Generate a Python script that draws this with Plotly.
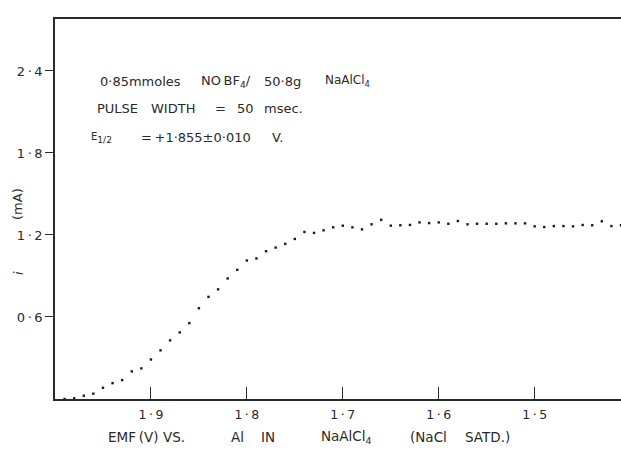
import plotly.graph_objects as go

emf = [1.99, 1.98, 1.97, 1.96, 1.95, 1.94, 1.93, 1.92, 1.91, 1.90,
       1.89, 1.88, 1.87, 1.86, 1.85, 1.84, 1.83, 1.82, 1.81, 1.80,
       1.79, 1.78, 1.77, 1.76, 1.75, 1.74, 1.73, 1.72, 1.71, 1.70,
       1.69, 1.68, 1.67, 1.66, 1.65, 1.64, 1.63, 1.62, 1.61, 1.60,
       1.59, 1.58, 1.57, 1.56, 1.55, 1.54, 1.53, 1.52, 1.51, 1.50,
       1.49, 1.48, 1.47, 1.46, 1.45, 1.44, 1.43, 1.42, 1.41]
current = [0.000, 0.005, 0.024, 0.039, 0.082, 0.116, 0.138, 0.202, 0.224, 0.289,
           0.356, 0.429, 0.487, 0.555, 0.664, 0.747, 0.802, 0.882, 0.945, 1.013,
           1.028, 1.081, 1.108, 1.135, 1.171, 1.222, 1.215, 1.234, 1.256, 1.268,
           1.256, 1.241, 1.278, 1.311, 1.268, 1.271, 1.273, 1.292, 1.287, 1.292,
           1.282, 1.302, 1.278, 1.282, 1.282, 1.282, 1.285, 1.285, 1.285, 1.263,
           1.258, 1.265, 1.265, 1.263, 1.273, 1.271, 1.300, 1.265, 1.271]

T = "\u2009"
x_tickvals = [1.9, 1.8, 1.7, 1.6, 1.5]
x_ticktext = [f"1{T}·{T}9", f"1{T}·{T}8", f"1{T}·{T}7", f"1{T}·{T}6", f"1{T}·{T}5"]
y_tickvals = [0.6, 1.2, 1.8, 2.4]
y_ticktext = [f"0{T}·{T}6", f"1{T}·{T}2", f"1{T}·{T}8", f"2{T}·{T}4"]

# text pieces: (text, centre x px, centre y px, size)
note_pieces = [
    ("0·85mmoles", 140, 82, 13),
    (f"NO{T}BF<sub>4</sub>/", 226, 82, 13),
    ("50·8g", 282, 82, 13),
    ("NaAlCl<sub>4</sub>", 347, 81, 12),
    ("PULSE", 117, 109, 13),
    ("WIDTH", 173, 109, 13),
    ("=", 221, 109, 13),
    ("50", 245, 109, 13),
    ("msec.", 283, 109, 13),
    ("<span style='font-size:10px'>E</span><sub>1/2</sub>", 101, 138, 13),
    (f"={T}+1·855±0·010", 196, 137, 13),
    ("V.", 277, 137, 13),
]
xtitle_pieces = [
    (f"EMF{T}(V)", 133, 437, 13.5),
    ("VS.", 174, 437, 13.5),
    ("Al", 237, 437, 13.5),
    ("IN", 268, 437, 13.5),
    ("NaAlCl<sub>4</sub>", 346, 437, 13.5),
    ("(NaCl", 428, 437, 13.5),
    ("SATD.)", 487, 437, 13.5),
]
ytitle_pieces = [
    ("<i>i</i>", 18, 273, 13),
    ("(mA)", 18, 204, 13),
]

ink = "#2a2a2a"
font_family = "DejaVu Sans, Liberation Sans, sans-serif"
L, R, TOP, BOT, W, H = 55, 0, 19, 53, 621, 452
PW, PH = W - L - R, H - TOP - BOT

fig = go.Figure()
fig.add_trace(go.Scatter(
    x=emf, y=current, mode="markers",
    marker=dict(symbol="square", size=2.4, color="#1a1a1a", line=dict(width=0)),
    showlegend=False, hoverinfo="skip"))

fig.update_layout(
    width=W, height=H,
    margin=dict(l=L, r=R, t=TOP, b=BOT),
    paper_bgcolor="white", plot_bgcolor="white",
    font=dict(family=font_family, color=ink, size=12),
    xaxis=dict(range=[2.0, 1.41], tickvals=x_tickvals, ticktext=x_ticktext,
               ticks="inside", ticklen=12, tickwidth=1.2, tickcolor=ink,
               showline=True, linecolor=ink, linewidth=1.5, mirror=True,
               showgrid=False, zeroline=False, ticklabelstandoff=3,
               tickfont=dict(size=12.5, color=ink)),
    yaxis=dict(range=[0, 2.78], tickvals=y_tickvals, ticktext=y_ticktext,
               ticks="outside", ticklen=8, tickwidth=1.2, tickcolor=ink,
               showline=True, linecolor=ink, linewidth=1.5, mirror=False,
               showgrid=False, zeroline=False,
               tickfont=dict(size=13, color=ink)),
)

def px_x(px):
    return (px - L) / PW

def px_y(py):
    return (H - BOT - py) / PH

for text, cx, cy, size in note_pieces + xtitle_pieces:
    fig.add_annotation(text=text, x=px_x(cx), y=px_y(cy), xref="paper", yref="paper",
                       showarrow=False, xanchor="center", yanchor="middle",
                       font=dict(size=size, color=ink, family=font_family))
for text, cx, cy, size in ytitle_pieces:
    fig.add_annotation(text=text, x=px_x(cx), y=px_y(cy), xref="paper", yref="paper",
                       showarrow=False, xanchor="center", yanchor="middle", textangle=-90,
                       font=dict(size=size, color=ink, family=font_family))

fig.write_html("out.html")
